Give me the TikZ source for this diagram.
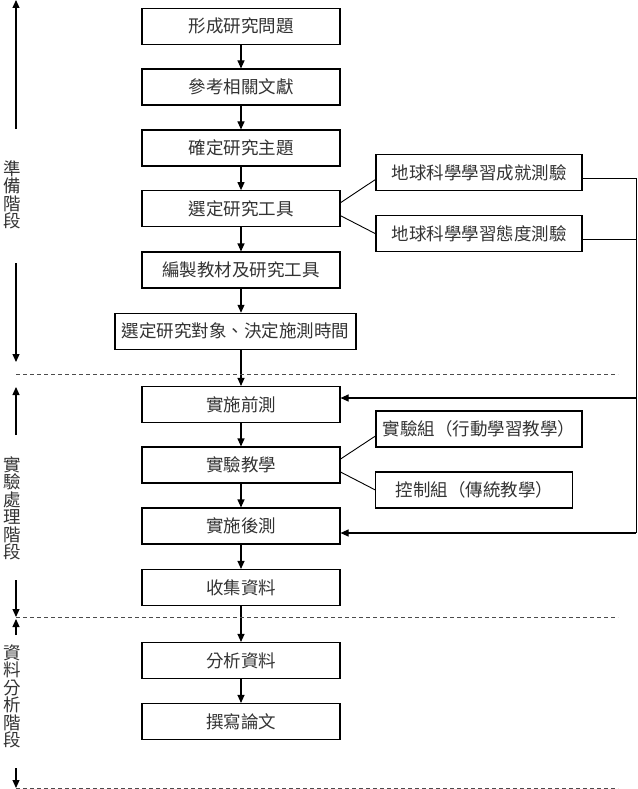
\documentclass[tikz,border=0pt]{standalone}
\usepackage{fontspec}
\newfontfamily\cjk{Noto Sans CJK TC}
\usetikzlibrary{arrows.meta}

\tikzset{
  stepbox/.style={draw, line width=1.1pt, minimum width=198pt, minimum height=36pt,
    inner sep=0pt, font=\cjk\fontsize{17.5}{17.5}\selectfont, text=black!80},
  toolbox/.style={stepbox, minimum width=206pt},
  flow/.style={line width=1.1pt, -{Triangle[length=8pt,width=7pt]}},
  link/.style={line width=0.9pt},
  phase/.style={dash pattern=on 4pt off 3pt, line width=0.9pt, black!70},
  stagelabel/.style={align=center, inner sep=0pt,
    font=\cjk\fontsize{17.5}{17.5}\selectfont, text=black!80}
}

\begin{document}
\begin{tikzpicture}[x=1pt, y=-1pt]
    \useasboundingbox (0,0) rectangle (637,789);

    % Main steps
    \foreach \n/\y/\t in {b1/26.3/形成研究問題, b2/87/參考相關文獻, b3/148/確定研究主題,
        b4/208.7/選定研究工具, b5/270/編製教材及研究工具, b7/404.5/實施前測,
        b8/465/實驗教學, b9/526/實施後測, b10/587.5/收集資料,
        b11/660.5/分析資料, b12/721.5/撰寫論文} {
        \node[stepbox] (\n) at (241,\y) {\t};
    }
    \node[stepbox, minimum width=241pt] (b6) at (235.5,331.3) {選定研究對象、決定施測時間};

    \foreach \a/\b in {b1/b2, b2/b3, b3/b4, b4/b5, b5/b6, b6/b7,
        b7/b8, b8/b9, b9/b10, b10/b11, b11/b12} {
        \draw[flow] (\a.south -| b1) -- (\b.north -| b1);
    }

    % Tools and groups
    \node[toolbox] (t1) at (479,172.5) {地球科學學習成就測驗};
    \node[toolbox] (t2) at (479,233.7) {地球科學學習態度測驗};
    \node[toolbox] (g1) at (479,429) {實驗組（行動學習教學）};
    \node[toolbox, minimum width=197pt] (g2) at (474.4,490) {控制組（傳統教學）};

    \draw[link] ([yshift=6pt]b4.east) -- ([yshift=-7pt]t1.west);
    \draw[link] ([yshift=-7pt]b4.east) -- (t2.west);
    \draw[link] ([yshift=6pt]b8.east) -- ([yshift=-7pt]g1.west);
    \draw[link] ([yshift=-7pt]b8.east) -- (g2.west);

    % Tests feed into pre-test and post-test
    \coordinate (rail) at (636,0);
    \coordinate (t1out) at ([yshift=-6pt]t1.east);
    \coordinate (t2out) at ([yshift=-6pt]t2.east);
    \coordinate (pre) at ([yshift=6.5pt]b7.east);
    \coordinate (post) at ([yshift=-7pt]b9.east);
    \draw[link] (t1out) -- (t1out -| rail) -- (rail |- post);
    \draw[link] (t2out) -- (t2out -| rail);
    \draw[flow] (rail |- pre) -- (pre);
    \draw[flow] (rail |- post) -- (post);

    % Phase borders
    \foreach \y in {374, 617, 788} {
        \draw[phase] (16,\y) -- (618,\y);
    }

    % Phase labels
    \node[stagelabel] (s1) at (12.5,195) {準\\備\\階\\段};
    \node[stagelabel] (s2) at (12.5,508.5) {實\\驗\\處\\理\\階\\段};
    \node[stagelabel] (s3) at (12.5,696.5) {資\\料\\分\\析\\階\\段};

    \coordinate (s1a) at (16,129);   \coordinate (s1top) at (16,0);
    \coordinate (s1b) at (16,263);   \coordinate (s1bot) at (16,362);
    \coordinate (s2a) at (16,435);   \coordinate (s2top) at (16,387);
    \coordinate (s2b) at (16,580);   \coordinate (s2bot) at (16,617);
    \coordinate (s3a) at (16,635);   \coordinate (s3top) at (16,619);
    \coordinate (s3b) at (16,768);   \coordinate (s3bot) at (16,788);
    \foreach \s in {s1, s2, s3} {
        \draw[flow] (\s a) -- (\s top);
        \draw[flow] (\s b) -- (\s bot);
    }
\end{tikzpicture}
\end{document}
